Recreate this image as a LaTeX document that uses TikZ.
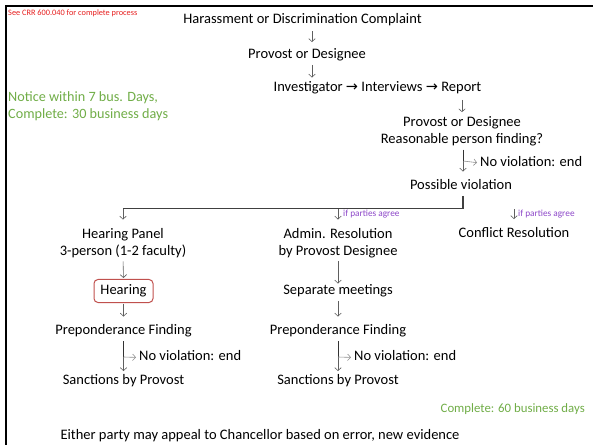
\documentclass[tikz,border=0pt]{standalone}
\usepackage{fontspec}
\setmainfont{Carlito}
\newfontfamily\arrowfont{DejaVu Sans}
\usetikzlibrary{arrows.meta}
\definecolor{notered}{RGB}{230,30,30}
\definecolor{notegreen}{RGB}{112,173,71}
\definecolor{notepurple}{RGB}{140,70,200}
\definecolor{boxred}{RGB}{192,80,77}
\definecolor{arrowgray}{RGB}{95,95,95}
\begin{document}
\begin{tikzpicture}[x=1bp,y=-1bp,
  txt/.style={inner sep=0pt, font=\fontsize{14.5bp}{17bp}\selectfont, text height=10bp, text depth=3.5bp},
  txttwo/.style={inner sep=0pt, font=\fontsize{14.5bp}{17bp}\selectfont, align=center},
  rednote/.style={inner sep=0pt, anchor=west, text=notered, font=\fontsize{8.3bp}{10bp}\selectfont},
  greennote/.style={inner sep=0pt, text=notegreen, align=left, font=\fontsize{14.2bp}{16.5bp}\selectfont},
  purplenote/.style={inner sep=0pt, anchor=west, text=notepurple, font=\fontsize{9.3bp}{10bp}\selectfont},
  hearbox/.style={txt, draw=boxred, line width=1bp, rounded corners=4bp, minimum width=59bp, minimum height=23bp, text height=10bp, text depth=3.5bp},
  arr/.style={draw=arrowgray, line width=0.6bp, -{Straight Barb[length=3bp,width=6.5bp]}},
  stem/.style={draw=black!80, line width=0.8bp},
  thinarr/.style={draw=arrowgray!70, line width=0.6bp, -{Straight Barb[length=3bp,width=6.5bp]}},
  split/.style={draw=black!75, line width=1bp},
  frame/.style={draw=black, line width=2.5bp}
]
\useasboundingbox (0,0) rectangle (593,445);
\draw[frame] (6,445) -- (6,6) -- (593,6);

% notes
\node[rednote] (cref) at (8,13.5) {See CRR 600.040 for complete process};
\node[greennote, anchor=west] (notice) at (8,106) {Notice within 7 bus. Days,\\Complete: 30 business days};
\node[greennote, anchor=east, font=\fontsize{12.8bp}{14bp}\selectfont] (c60) at (585,409) {Complete: 60 business days};

% main chain
\node[txt] (h1) at (302.5,20) {Harassment or Discrimination Complaint};
\node[txt] (p1) at (307,55) {Provost or Designee};
\node[txt] (inv) at (377.5,88.5) {Investigator {\arrowfont →} Interviews {\arrowfont →} Report};
\node[txttwo] (p2) at (462,131.6) {Provost or Designee\\Reasonable person finding?};
\node[txt, anchor=west] (nv1) at (480,163) {No violation: end};
\node[txt] (pv) at (461,186.5) {Possible violation};

% branches
\node[txttwo] (hp) at (123,243) {Hearing Panel\\3-person (1-2 faculty)};
\node[txttwo] (ar) at (338,243) {Admin. Resolution\\by Provost Designee};
\node[txt] (cr) at (514,234.5) {Conflict Resolution};
\node[purplenote] (pa1) at (343,214.5) {if parties agree};
\node[purplenote] (pa2) at (518,214.5) {if parties agree};

\node[hearbox] (hear) at (123.5,291) {Hearing};
\node[txt] (sep) at (338,291.5) {Separate meetings};

\node[txt] (pf1) at (123.5,331.5) {Preponderance Finding};
\node[txt] (pf2) at (338,331.5) {Preponderance Finding};
\node[txt, anchor=west] (nv2) at (139,357.5) {No violation: end};
\node[txt, anchor=west] (nv3) at (354,357.5) {No violation: end};
\node[txt] (sp1) at (123.5,381.5) {Sanctions by Provost};
\node[txt] (sp2) at (338,381.5) {Sanctions by Provost};

\node[txt] (appeal) at (260,436.5) {Either party may appeal to Chancellor based on error, new evidence};

% coordinates
\coordinate (colA) at (312,0);
\coordinate (splitc) at (463,209);
\coordinate (crtop) at (514,209.5);
\coordinate (b1) at (463,161);
\coordinate (b2) at (123.5,357);
\coordinate (b3) at (338,357);

% connectors
\draw[arr, shorten <=4.5bp, shorten >=6bp] (h1.south -| colA) -- (p1.north -| colA);
\draw[arr, shorten <=3bp, shorten >=4bp] (p1.south -| colA) -- (inv.north -| colA);
\draw[arr, shorten <=4.5bp, shorten >=4.5bp] (p2.north |- inv.south) -- (p2.north);
\draw[stem, shorten <=3bp] (p2.south -| b1) -- (b1);
\draw[arr, shorten >=8bp] (b1) -- (b1 |- pv.north);
\draw[thinarr, shorten <=0.5bp, shorten >=3bp] (b1) -- (nv1.west);
\draw[split, line width=1.3bp, shorten <=2.5bp] (pv.south -| splitc) -- (splitc);
\draw[split] (splitc) -- (splitc -| hp.north);
\draw[arr, shorten >=8.5bp] (splitc -| hp.north) -- (hp.north);
\draw[arr, shorten >=8.5bp] (splitc -| ar.north) -- (ar.north);
\draw[arr, shorten >=8.5bp] (crtop) -- (cr.north);

\draw[arr, shorten <=3.5bp, shorten >=1bp] (hp.south) -- (hear.north);
\draw[arr, shorten <=3.5bp, shorten >=1bp] (ar.south) -- (sep.north);
\draw[arr, shorten <=0.5bp, shorten >=8bp] (hear.south) -- (pf1.north);
\draw[arr, shorten <=3bp, shorten >=8bp] (sep.south) -- (pf2.north);

\draw[stem, shorten <=3bp] (pf1.south) -- (b2);
\draw[arr, shorten >=3.5bp] (b2) -- (sp1.north);
\draw[thinarr, shorten >=3bp] (b2) -- (nv2.west);
\draw[stem, shorten <=3bp] (pf2.south) -- (b3);
\draw[arr, shorten >=3.5bp] (b3) -- (sp2.north);
\draw[thinarr, shorten >=3bp] (b3) -- (nv3.west);
\end{tikzpicture}
\end{document}
